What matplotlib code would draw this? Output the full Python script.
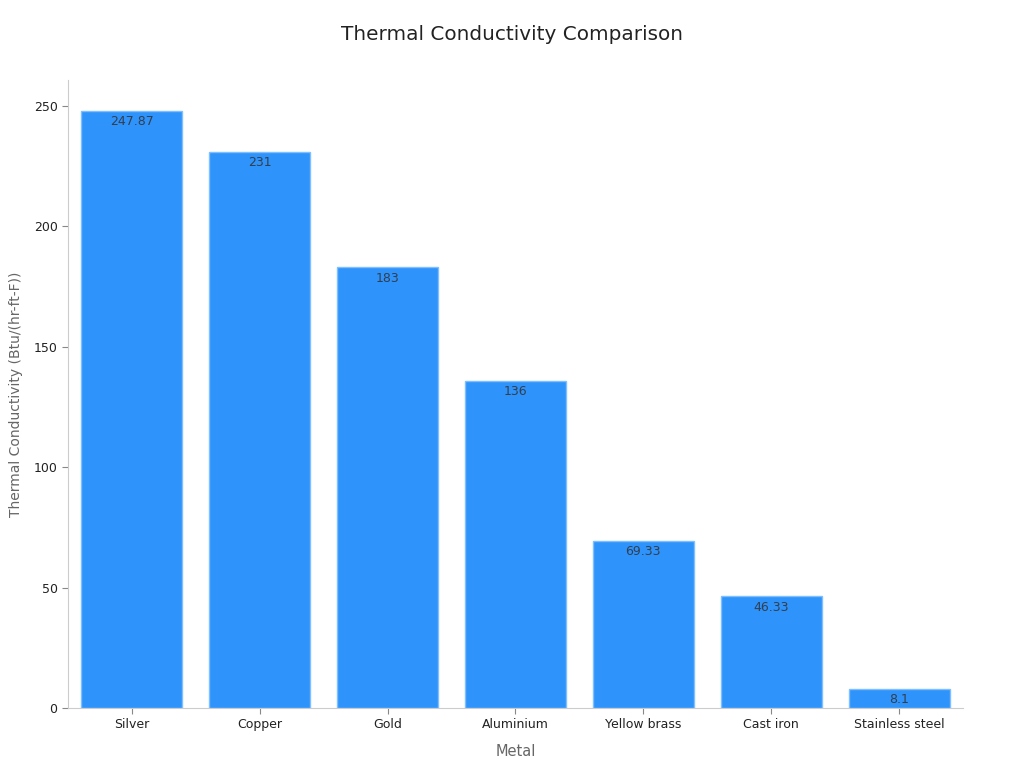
import matplotlib.pyplot as plt

metals = ['Silver', 'Copper', 'Gold', 'Aluminium', 'Yellow brass', 'Cast iron', 'Stainless steel']
conductivity = [247.87, 231, 183, 136, 69.33, 46.33, 8.1]
value_labels = ['247.87', '231', '183', '136', '69.33', '46.33', '8.1']
yticks = [0, 50, 100, 150, 200, 250]

fig = plt.figure(figsize=(10.24, 7.68), dpi=100)
ax = fig.add_axes([0.0664, 0.0781, 0.8740, 0.8177])

x = range(len(metals))
bars = ax.bar(x, conductivity, width=0.79, color='#2E93FA', edgecolor='#7FBFFF', linewidth=1)

for rect, lab in zip(bars, value_labels):
    ax.annotate(lab, (rect.get_x() + rect.get_width() / 2, rect.get_height()),
                xytext=(0, -3), textcoords='offset points', ha='center', va='top',
                fontsize=9, color='#333f4f')

ax.set_xlim(-0.5, 6.5)
ax.set_ylim(0, 260.8)
ax.set_xticks(list(x))
ax.set_xticklabels(metals, fontsize=9, color='#222222')
ax.set_yticks(yticks)
ax.set_yticklabels([str(t) for t in yticks], fontsize=9, color='#222222')
ax.tick_params(axis='both', color='#888888', length=4)

for s in ['top', 'right']:
    ax.spines[s].set_visible(False)
for s in ['left', 'bottom']:
    ax.spines[s].set_color('#cccccc')

ax.set_xlabel('Metal', fontsize=10.5, color='#666666', labelpad=9)
ax.set_ylabel('Thermal Conductivity (Btu/(hr-ft-F))', fontsize=10, color='#666666', labelpad=8)
fig.suptitle('Thermal Conductivity Comparison', fontsize=14.4, color='#222222', y=0.968)

fig.savefig('out.png', dpi=100)
